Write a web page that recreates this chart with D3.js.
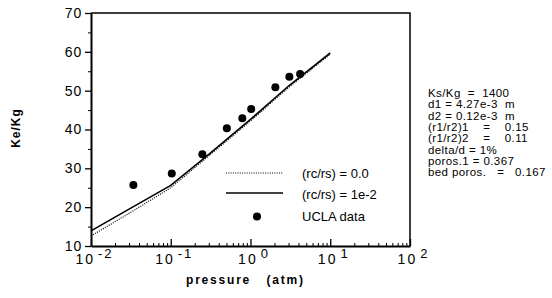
<!DOCTYPE html>
<html>
<head>
<meta charset="utf-8">
<script src="https://cdn.jsdelivr.net/npm/d3@7"></script>
<style>
  body { margin: 0; background: #fff; }
  svg { font-family: "Liberation Sans", Arial, sans-serif; }
  .axis path, .axis line { stroke: #000; }
</style>
</head>
<body>
<script>
const svgWidth = 552
const svgHeight = 298

const margin = { top: 13, right: 142, bottom: 52, left: 91 }
const chartWidth = svgWidth - margin.left - margin.right
const chartHeight = svgHeight - margin.top - margin.bottom

const pressureUCLA = [0.034, 0.103, 0.249, 0.505, 0.79, 1.02, 2.05, 3.07, 4.19]
const keUCLA = [25.7, 28.7, 33.6, 40.3, 42.9, 45.3, 50.9, 53.6, 54.3]

const pressureModel = [0.01, 0.03, 0.1, 0.3, 1, 3, 10]
const keSolid = [13.9, 19.5, 25.6, 33.6, 42.6, 51.2, 59.7]   // (rc/rs) = 1e-2
const keDotted = [12.6, 18.4, 25.0, 33.2, 42.2, 50.8, 59.4]  // (rc/rs) = 0.0

const xMajor = [0.01, 0.1, 1, 10, 100]
const xExponents = ["-2", "-1", "0", "1", "2"]
const yMajor = [10, 20, 30, 40, 50, 60, 70]
const yMinor = [15, 25, 35, 45, 55, 65]

const legendLabels = ["(rc/rs) = 0.0", "(rc/rs) = 1e-2", "UCLA data"]
const notes = ["Ks/Kg  =  1400", "d1 = 4.27e-3  m", "d2 = 0.12e-3  m", "(r1/r2)1    =    0.15",
  "(r1/r2)2    =    0.11", "delta/d = 1%", "poros.1 = 0.367", "bed poros.   =   0.167"]

const svg = d3.select("body").append("svg")
    .attr("width", svgWidth)
    .attr("height", svgHeight)

const chartG = svg.append("g")
    .attr("transform", `translate(${margin.left}, ${margin.top})`)

const x = d3.scaleLog()
    .domain([0.01, 100])
    .range([0, chartWidth])

const y = d3.scaleLinear()
    .domain([10, 70])
    .range([chartHeight, 0])

const xMinor = []
xMajor.slice(0, -1).forEach(d => { for (let k = 2; k < 10; k++) xMinor.push(d * k) })

// frame
chartG.append("path")
    .attr("d", `M0,0H${chartWidth}V${chartHeight}`)
    .attr("fill", "none")
    .attr("stroke", "#000")
    .attr("stroke-width", 1.5)

// x axis, ticks point inward
chartG.append("g")
    .attr("class", "axis")
    .attr("transform", `translate(0, ${chartHeight})`)
    .call(d3.axisBottom(x).tickValues(xMinor).tickSize(-3).tickFormat("").tickSizeOuter(0))
    .call(g => g.select(".domain").attr("stroke-width", 1.8))

const xAxisG = chartG.append("g")
    .attr("class", "axis")
    .attr("transform", `translate(0, ${chartHeight})`)
    .call(d3.axisBottom(x).tickValues(xMajor).tickSize(-7).tickPadding(8).tickFormat("").tickSizeOuter(0))

xAxisG.select(".domain").remove()
xAxisG.selectAll(".tick line").attr("stroke-width", 1.3)
xAxisG.selectAll(".tick text")
    .attr("font-size", 14)
    .attr("letter-spacing", 2)
    .attr("text-anchor", "middle")
    .attr("dx", 3)
    .each(function(d, i) {
      const t = d3.select(this)
      t.append("tspan").text("10")
      t.append("tspan").attr("font-size", 13).attr("dx", 3).attr("dy", -6).text(xExponents[i])
    })

// y axis
chartG.append("g")
    .attr("class", "axis")
    .call(d3.axisLeft(y).tickValues(yMinor).tickSize(3).tickFormat("").tickSizeOuter(0))
    .call(g => g.select(".domain").attr("stroke-width", 2))

chartG.append("g")
    .attr("class", "axis")
    .call(d3.axisLeft(y).tickValues(yMajor).tickSize(6).tickPadding(3).tickSizeOuter(0))
    .call(g => g.select(".domain").remove())
    .call(g => g.selectAll(".tick line").attr("stroke-width", 1.3))
    .call(g => g.selectAll(".tick text").attr("font-size", 14).attr("letter-spacing", 0.8).attr("fill", "#000"))

// curves
const line = d3.line()
    .x(d => x(d[0]))
    .y(d => y(d[1]))

chartG.append("path")
    .datum(d3.zip(pressureModel, keDotted))
    .attr("d", line)
    .attr("fill", "none")
    .attr("stroke", "#000")
    .attr("stroke-width", 1.2)
    .attr("stroke-dasharray", "1,1.3")

chartG.append("path")
    .datum(d3.zip(pressureModel, keSolid))
    .attr("d", line)
    .attr("fill", "none")
    .attr("stroke", "#000")
    .attr("stroke-width", 1.6)

chartG.selectAll("circle.ucla")
    .data(d3.zip(pressureUCLA, keUCLA))
    .enter()
    .append("circle")
    .attr("class", "ucla")
    .attr("cx", d => x(d[0]))
    .attr("cy", d => y(d[1]))
    .attr("r", 4)
    .attr("fill", "#000")

// legend
const legend = svg.append("g")
    .attr("transform", "translate(226, 173)")

legend.append("line")
    .attr("x1", 0).attr("x2", 57).attr("y1", 0).attr("y2", 0)
    .attr("stroke", "#000").attr("stroke-width", 1.2).attr("stroke-dasharray", "1,1.3")
legend.append("line")
    .attr("x1", 0).attr("x2", 57).attr("y1", 20).attr("y2", 20)
    .attr("stroke", "#000").attr("stroke-width", 1.6)
legend.append("circle")
    .attr("cx", 31).attr("cy", 43.5).attr("r", 4).attr("fill", "#000")

legend.selectAll("text")
    .data(legendLabels)
    .enter()
    .append("text")
    .attr("x", 76)
    .attr("y", (d, i) => 4.5 + i * 21.5)
    .attr("font-size", 13)
    .text(d => d)

// parameter notes
svg.append("g")
    .selectAll("text")
    .data(notes)
    .enter()
    .append("text")
    .attr("xml:space", "preserve")
    .attr("x", 428)
    .attr("y", (d, i) => 97 + i * 11.3)
    .attr("font-size", 11.5)
    .attr("letter-spacing", 0.4)
    .text(d => d)

// axis titles
svg.append("text")
    .attr("xml:space", "preserve")
    .attr("x", 186)
    .attr("y", 284)
    .attr("font-size", 12)
    .attr("font-weight", "bold")
    .attr("letter-spacing", 1.8)
    .text("pressure   (atm)")

svg.append("text")
    .attr("transform", "translate(19.5, 128) rotate(-90)")
    .attr("text-anchor", "middle")
    .attr("font-size", 12)
    .attr("font-weight", "bold")
    .attr("letter-spacing", 1)
    .text("Ke/Kg")
</script>
</body>
</html>
